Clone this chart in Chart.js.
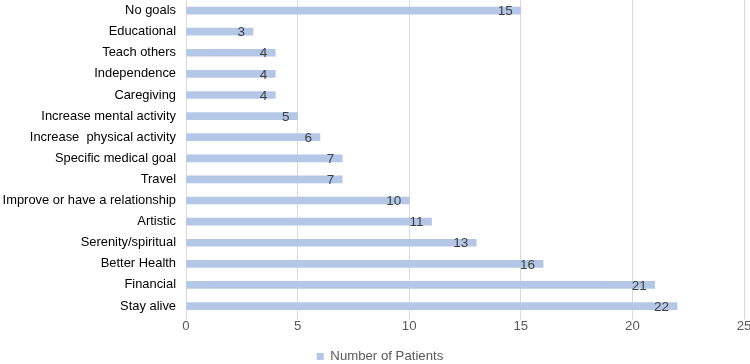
<!DOCTYPE html>
<html>
<head>
<meta charset="utf-8">
<script src="https://cdn.jsdelivr.net/npm/chart.js@4/dist/chart.umd.min.js"></script>
<style>
  html, body { margin: 0; padding: 0; background: #fff; }
  #wrap { width: 750px; height: 364px; }
</style>
</head>
<body>
<div id="wrap"><canvas id="goalsChart"></canvas></div>
<script>
// Goals reported by patients
const goals = [
    'No goals', 'Educational', 'Teach others', 'Independence', 'Caregiving',
    'Increase mental activity', 'Increase  physical activity', 'Specific medical goal',
    'Travel', 'Improve or have a relationship', 'Artistic', 'Serenity/spiritual',
    'Better Health', 'Financial', 'Stay alive'
];
const patients = [15, 3, 4, 4, 4, 5, 6, 7, 7, 10, 11, 13, 16, 21, 22];
const xTicks = [0, 5, 10, 15, 20, 25];

const fontFamily = '"Liberation Sans", Arial, sans-serif';
const fontSize = 12.9;

// numbers drawn at the inner end of each bar
const barLabels = {
    id: 'barLabels',
    afterLayout(chart) {
        // legend sits a little right of centre in the original
        chart.legend.left += 5;
        chart.legend.right += 5;
    },
    afterDatasetsDraw(chart) {
        const ctx = chart.ctx;
        ctx.save();
        ctx.font = '13.5px ' + fontFamily;
        ctx.fillStyle = '#404040';
        ctx.textAlign = 'right';
        ctx.textBaseline = 'middle';
        chart.getDatasetMeta(0).data.forEach((bar, i) => {
            ctx.fillText(patients[i], bar.x - 8, bar.y + 1);
        });
        ctx.restore();
    }
};

new Chart(document.getElementById('goalsChart'), {
    type: 'bar',
    data: {
        labels: goals,
        datasets: [{
            label: 'Number of Patients',
            data: patients,
            backgroundColor: '#b4c7e7',
            borderWidth: 0,
            barThickness: 7
        }]
    },
    options: {
        indexAxis: 'y',
        responsive: true,
        maintainAspectRatio: false,
        animation: false,
        layout: { padding: { top: 0, right: 0, bottom: -9, left: 0 } },
        plugins: {
            legend: {
                position: 'bottom',
                labels: {
                    color: '#595959',
                    font: { family: fontFamily, size: 13.2 },
                    boxWidth: 7,
                    boxHeight: 7,
                    padding: 17
                }
            },
            tooltip: { enabled: false }
        },
        scales: {
            x: {
                min: 0,
                max: 25,
                afterBuildTicks: axis => { axis.ticks = xTicks.map(v => ({ value: v })); },
                afterFit: axis => { axis.paddingLeft = 0; axis.paddingRight = 6; },
                grid: { color: '#d9d9d9', tickLength: 3 },
                border: { display: false },
                ticks: {
                    color: '#595959',
                    font: { family: fontFamily, size: 13.2, lineHeight: 1 },
                    padding: 0
                }
            },
            y: {
                afterFit: axis => {
                    axis.width = 186;
                    axis.paddingTop = 0;
                    axis.paddingBottom = 0;
                },
                grid: { display: false, drawTicks: false },
                border: { display: false },
                ticks: {
                    color: '#000',
                    font: { family: fontFamily, size: fontSize },
                    padding: 10
                }
            }
        }
    },
    plugins: [barLabels]
});
</script>
</body>
</html>
